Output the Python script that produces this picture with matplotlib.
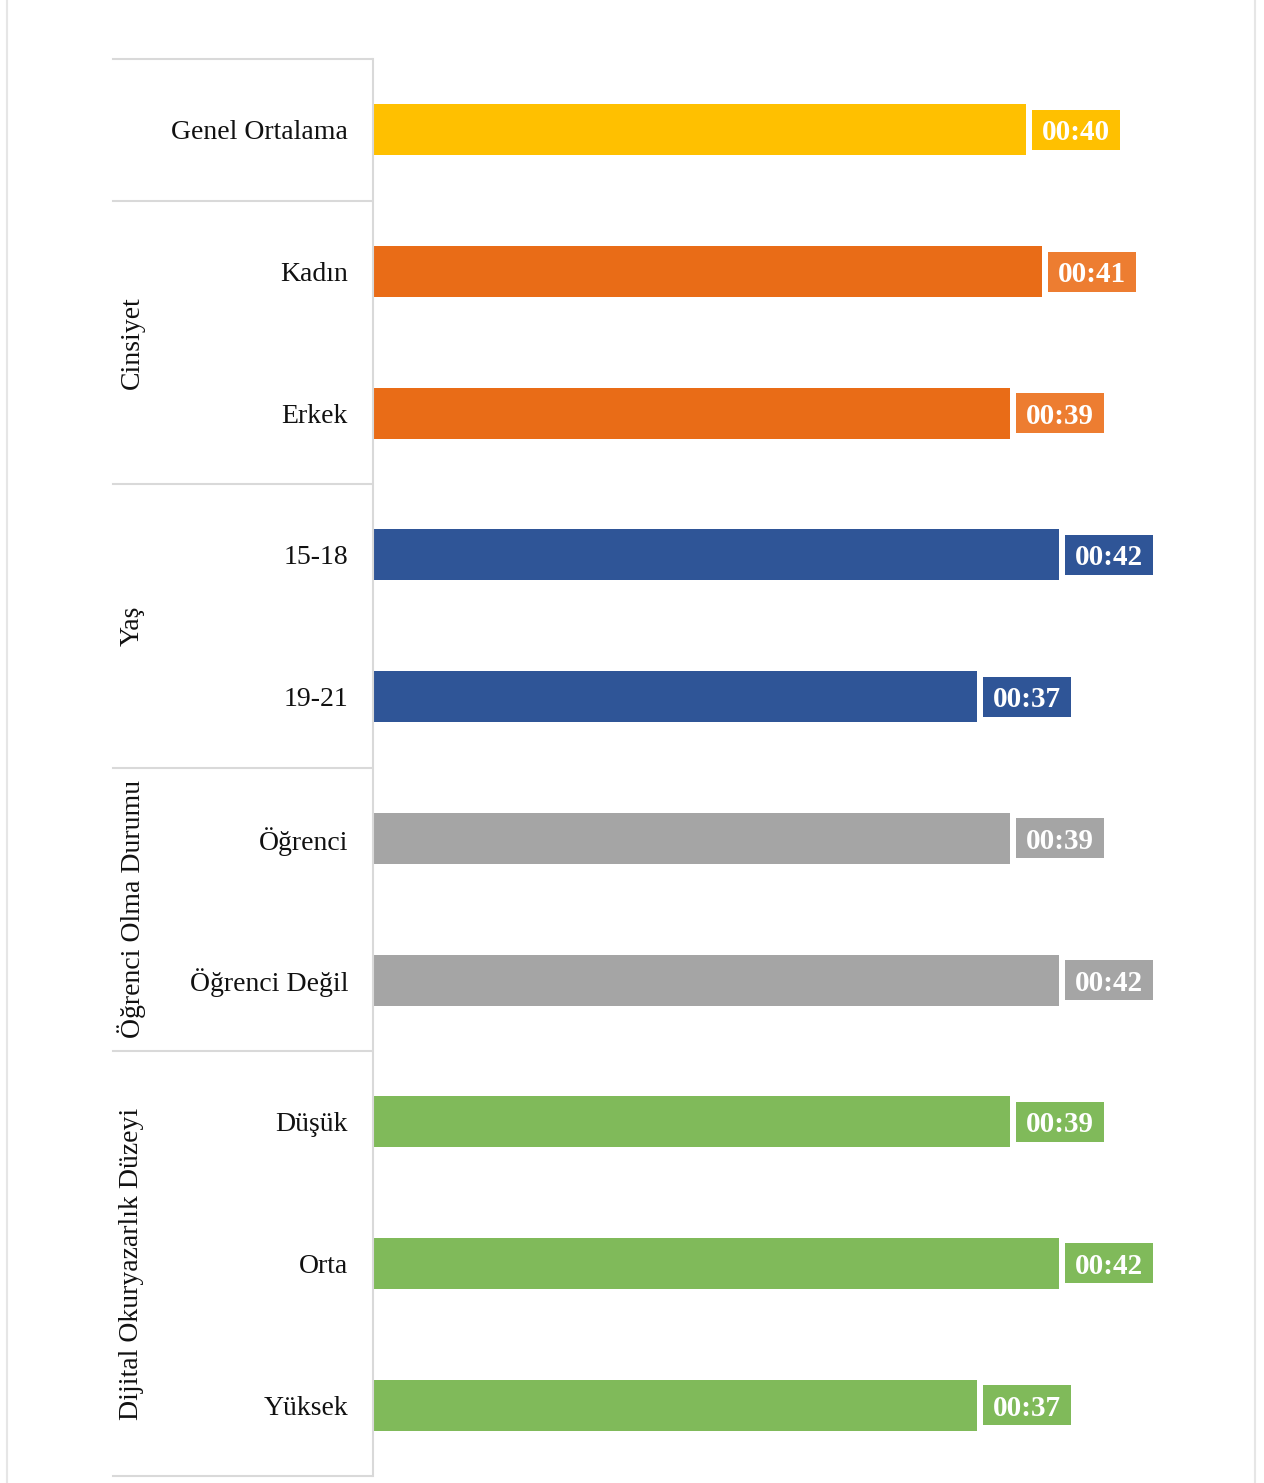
import matplotlib
matplotlib.use("Agg")
import matplotlib.pyplot as plt
import matplotlib.transforms as mtransforms
from matplotlib.patches import Rectangle
from matplotlib.lines import Line2D

categories = ["Genel Ortalama", "Kadın", "Erkek", "15-18", "19-21",
              "Öğrenci", "Öğrenci Değil", "Düşük", "Orta", "Yüksek"]
values = [40, 41, 39, 42, 37, 39, 42, 39, 42, 37]  # minutes
value_labels = ["00:40", "00:41", "00:39", "00:42", "00:37",
                "00:39", "00:42", "00:39", "00:42", "00:37"]
groups = ["", "Cinsiyet", "Yaş", "Öğrenci Olma Durumu", "Dijital Okuryazarlık Düzeyi"]
group_sizes = [1, 2, 2, 2, 3]
group_bar_colors = ["#FFC000", "#E96C17", "#2F5597", "#A5A5A5", "#80BA5A"]
group_label_colors = ["#FFC000", "#ED7D31", "#2F5597", "#A5A5A5", "#80BA5A"]

W, H = 1264, 1483
fig = plt.figure(figsize=(W / 100, H / 100), dpi=100)
FONT = "Liberation Serif"

ax_left, ax_right = 372.5 / W, 1240 / W
ax_top, ax_bot = 59, 1476
ax = fig.add_axes([ax_left, 1 - ax_bot / H, ax_right - ax_left, (ax_bot - ax_top) / H])

n = len(categories)
ys = list(range(n))
bar_colors, lab_colors = [], []
for g, s in enumerate(group_sizes):
    bar_colors += [group_bar_colors[g]] * s
    lab_colors += [group_label_colors[g]] * s

XMAX = 53.1
ax.barh(ys, values, height=0.36, color=bar_colors, zorder=2)
ax.set_xlim(0, XMAX)
ax.set_ylim(n - 0.5, -0.5)
for sp in ["top", "right", "bottom"]:
    ax.spines[sp].set_visible(False)
ax.spines["left"].set_color("#D9D9D9")
ax.spines["left"].set_linewidth(1.5)
ax.set_xticks([])
ax.set_yticks([])

# value label boxes
fig.canvas.draw()
px_per_unit = ax.bbox.width / XMAX
box_w = 88 / px_per_unit
box_h = 40 / (ax.bbox.height / n)
off = mtransforms.offset_copy(ax.transData, fig=fig, x=6, y=0, units="dots")
for y, v, lab, c in zip(ys, values, value_labels, lab_colors):
    ax.add_patch(Rectangle((v, y - box_h / 2), box_w, box_h, transform=off,
                           facecolor=c, edgecolor="none", clip_on=False, zorder=3))
    ax.text(v + box_w / 2, y, lab, transform=off, ha="center", va="center_baseline",
            color="white", fontsize=21, fontweight="bold", family=FONT, zorder=4)

# category labels
tr = mtransforms.blended_transform_factory(fig.transFigure, ax.transData)
for y, cat in zip(ys, categories):
    ax.text(348 / W, y, cat, transform=tr, ha="right", va="center_baseline",
            fontsize=20, family=FONT, color="#111111")

# table lines and group labels
x0, x1 = 113 / W, 372 / W
bounds = [-0.5]
for s in group_sizes:
    bounds.append(bounds[-1] + s)
for b in bounds:
    ax.add_line(Line2D([x0, x1], [b, b], transform=tr, color="#D9D9D9",
                       linewidth=1.5, clip_on=False))
for g, name in enumerate(groups):
    if name:
        mid = (bounds[g] + bounds[g + 1]) / 2
        ax.text(132 / W, mid, name, transform=tr, rotation=90, ha="center",
                va="center", fontsize=20, family=FONT, color="#111111")

# page border lines
for xp in [7, 1255]:
    fig.add_artist(Line2D([xp / W, xp / W], [0, 1], transform=fig.transFigure,
                          color="#E6E6E6", linewidth=1.5))

fig.savefig("out.png", dpi=100, facecolor="white")
